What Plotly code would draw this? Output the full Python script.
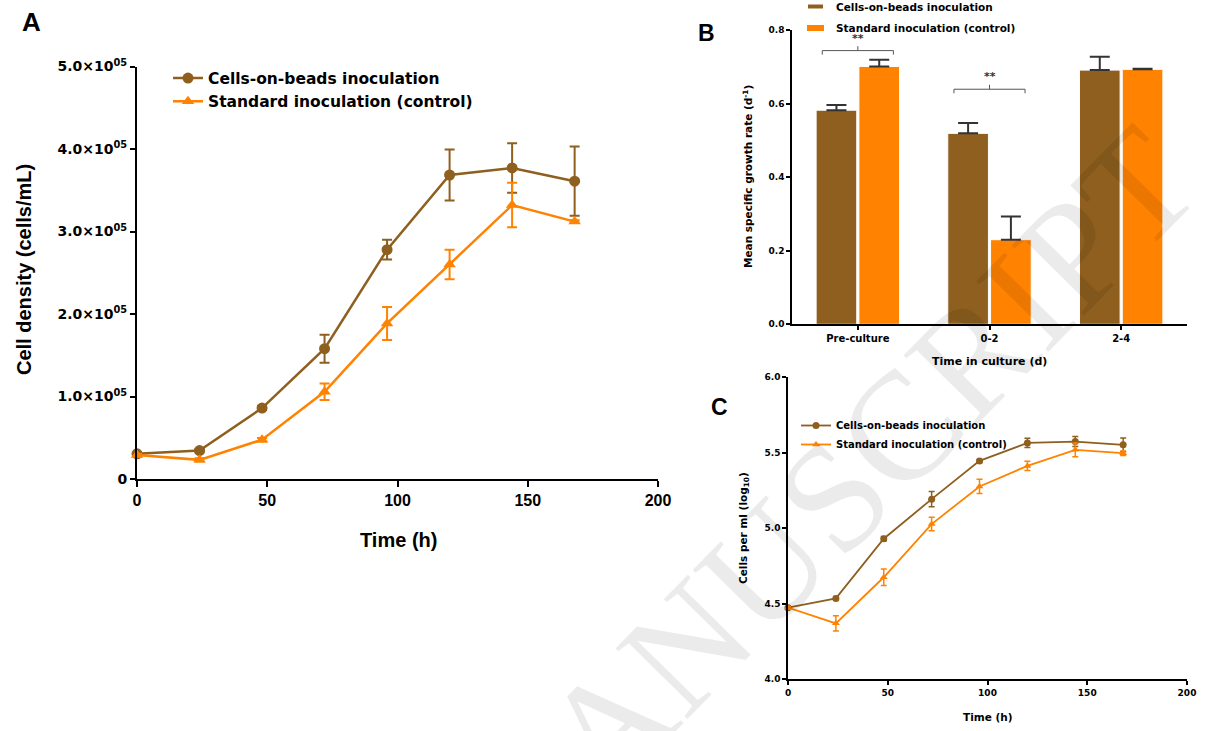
import plotly.graph_objects as go

# ---------------- data ----------------
time_h = [0, 24, 48, 72, 96, 120, 144, 168]
series_names = ["Cells-on-beads inoculation", "Standard inoculation (control)"]

# Panel A: cell density (cells/mL)
a_beads = [30500, 34500, 86000, 158000, 278000, 368500, 377000, 361000]
a_beads_err = [2000, 2000, 2500, 17000, 12000, 31000, 30000, 42000]
a_ctrl = [29000, 23200, 47600, 105700, 188600, 260000, 332000, 312000]
a_ctrl_err = [1500, 2000, 2000, 10000, 20000, 18000, 27000, 1500]
a_yticks = [0, 100000, 200000, 300000, 400000, 500000]
a_yticktext = ["0", "1.0×10<sup>05</sup>", "2.0×10<sup>05</sup>", "3.0×10<sup>05</sup>",
               "4.0×10<sup>05</sup>", "5.0×10<sup>05</sup>"]

# Panel B: mean specific growth rate (d-1)
b_categories = ["Pre-culture", "0-2", "2-4"]
b_beads = [0.582, 0.519, 0.691]
b_beads_err = [0.014, 0.028, 0.036]
b_ctrl = [0.701, 0.230, 0.693]
b_ctrl_err = [0.018, 0.063, 0.002]
b_sig_labels = ["**", "**", ""]
b_sig_levels = [0.744, 0.639, None]

# Panel C: log10 cells per ml
c_beads = [4.474, 4.535, 4.930, 5.192, 5.445, 5.564, 5.573, 5.551]
c_beads_err = [0.010, 0.012, 0.015, 0.050, 0.010, 0.030, 0.033, 0.045]
c_ctrl = [4.474, 4.370, 4.675, 5.027, 5.276, 5.412, 5.518, 5.496]
c_ctrl_err = [0.010, 0.050, 0.055, 0.045, 0.047, 0.030, 0.045, 0.015]

# ---------------- style ----------------
BROWN = "#8E5F1E"
ORANGE = "#FF8200"
DV = "DejaVu Sans"
LS = "Liberation Sans"
PAGE_MARGIN = 0          # body margin removed by the post script below
W, H = 1206 - 2 * PAGE_MARGIN, 731 - 2 * PAGE_MARGIN


def px(x):
    return (x - PAGE_MARGIN) / W


def py(y):
    return 1 - (y - PAGE_MARGIN) / H


fig = go.Figure()

# ---- Panel A ----
fig.add_trace(go.Scatter(
    x=time_h, y=a_beads, name=series_names[0], mode="lines+markers",
    line=dict(color=BROWN, width=2.5), marker=dict(symbol="circle", size=11, color=BROWN),
    error_y=dict(type="data", array=a_beads_err, color=BROWN, thickness=2, width=5),
    xaxis="x", yaxis="y", legend="legend", legendgroup="a1", cliponaxis=False))
fig.add_trace(go.Scatter(
    x=time_h, y=a_ctrl, name=series_names[1], mode="lines+markers",
    line=dict(color=ORANGE, width=2.5), marker=dict(symbol="triangle-up", size=11, color=ORANGE),
    error_y=dict(type="data", array=a_ctrl_err, color=ORANGE, thickness=2, width=5),
    xaxis="x", yaxis="y", legend="legend", legendgroup="a2", cliponaxis=False))

# ---- Panel B ----
fig.add_trace(go.Bar(
    x=b_categories, y=b_beads, name=series_names[0], marker=dict(color=BROWN, line=dict(color="white", width=1)),
    error_y=dict(type="data", array=b_beads_err, arrayminus=[0] * 3, symmetric=False,
                 color="#333333", thickness=2, width=10),
    xaxis="x2", yaxis="y2", showlegend=False))
fig.add_trace(go.Bar(
    x=b_categories, y=b_ctrl, name=series_names[1], marker=dict(color=ORANGE, line=dict(color="white", width=1)),
    error_y=dict(type="data", array=b_ctrl_err, arrayminus=[0] * 3, symmetric=False,
                 color="#333333", thickness=2, width=10),
    xaxis="x2", yaxis="y2", showlegend=False))

# ---- Panel C ----
fig.add_trace(go.Scatter(
    x=time_h, y=c_beads, name=series_names[0], mode="lines+markers",
    line=dict(color=BROWN, width=1.8), marker=dict(symbol="circle", size=7, color=BROWN),
    error_y=dict(type="data", array=c_beads_err, color=BROWN, thickness=1.5, width=3),
    xaxis="x3", yaxis="y3", legend="legend3", legendgroup="c1", cliponaxis=False))
fig.add_trace(go.Scatter(
    x=time_h, y=c_ctrl, name=series_names[1], mode="lines+markers",
    line=dict(color=ORANGE, width=1.8), marker=dict(symbol="triangle-up", size=7, color=ORANGE),
    error_y=dict(type="data", array=c_ctrl_err, color=ORANGE, thickness=1.5, width=3),
    xaxis="x3", yaxis="y3", legend="legend3", legendgroup="c2", cliponaxis=False))

axis_common = dict(showgrid=False, zeroline=False, showline=True, linecolor="black",
                   ticks="outside", tickcolor="black", mirror=False, automargin=False)

fig.update_layout(
    width=W, height=H, margin=dict(l=0, r=0, t=0, b=0, autoexpand=False),
    paper_bgcolor="white", plot_bgcolor="white",
    barmode="group", bargap=0.35, bargroupgap=0.05,
    xaxis=dict(**axis_common, domain=[px(137), px(658)], range=[0, 200], anchor="y",
               tickvals=[0, 50, 100, 150, 200], linewidth=2, tickwidth=2, ticklen=6,
               tickfont=dict(family=LS, size=16, color="black", weight="bold")),
    yaxis=dict(**axis_common, domain=[py(479), py(66.5)], range=[0, 500000], anchor="x",
               tickvals=a_yticks, ticktext=a_yticktext, linewidth=2, tickwidth=2, ticklen=5,
               tickfont=dict(family=DV, size=14, color="black", weight="bold")),
    xaxis2=dict(**axis_common, domain=[px(792), px(1187)], range=[-0.5, 2.5], anchor="y2",
                type="category", linewidth=1.5, tickwidth=1.5, ticklen=4,
                tickfont=dict(family=DV, size=10, color="black", weight="bold")),
    yaxis2=dict(**axis_common, domain=[py(324.3), py(30)], range=[0, 0.8], anchor="x2",
                tickvals=[0, 0.2, 0.4, 0.6, 0.8], tickformat=".1f", linewidth=1.5, tickwidth=1.5, ticklen=4,
                tickfont=dict(family=DV, size=9, color="black", weight="bold")),
    xaxis3=dict(**axis_common, domain=[px(788), px(1187)], range=[0, 200], anchor="y3",
                tickvals=[0, 50, 100, 150, 200], linewidth=1.5, tickwidth=1.5, ticklen=4,
                tickfont=dict(family=DV, size=9, color="black", weight="bold")),
    yaxis3=dict(**axis_common, domain=[py(679.3), py(377)], range=[4.0, 6.0], anchor="x3",
                tickvals=[4.0, 4.5, 5.0, 5.5, 6.0], tickformat=".1f", linewidth=1.5, tickwidth=1.5, ticklen=4,
                tickfont=dict(family=DV, size=9, color="black", weight="bold")),
    legend=dict(x=px(168), y=py(61.5), xanchor="left", yanchor="top", bgcolor="rgba(0,0,0,0)",
                font=dict(family=DV, size=15.5, color="black", weight="bold"), tracegroupgap=0),
    legend3=dict(x=px(796), y=py(411), xanchor="left", yanchor="top", bgcolor="rgba(0,0,0,0)",
                 font=dict(family=DV, size=10, color="black", weight="bold"), tracegroupgap=0),
)

annotations = []
shapes = []


def txt(text, x, y, size, family=DV, angle=0, color="black", xanchor="center", yanchor="middle", ref=("paper", "paper")):
    return dict(text=text, x=x, y=y, xref=ref[0], yref=ref[1], showarrow=False, textangle=angle,
                xanchor=xanchor, yanchor=yanchor,
                font=dict(family=family, size=size, color=color, weight="bold"))


# Axis titles
annotations += [
    txt("Time (h)", px(398), py(540), 20, LS),
    txt("Cell density (cells/mL)", px(24), py(270), 20, LS, angle=-90),
    txt("Time in culture (d)", px(989.5), py(361.7), 11),
    txt("Mean specific growth rate (d<sup>-1</sup>)", px(747.5), py(176.5), 10.5, angle=-90),
    txt("Time (h)", px(987.5), py(717), 10.5),
    txt("Cells per ml (log<sub>10</sub>)", px(744), py(528), 10.5, angle=-90),
]

# Panel letters
annotations += [
    txt("A", px(31), py(22), 26, LS),
    txt("B", px(706), py(33), 23, LS),
    txt("C", px(720), py(407), 23, LS),
]

# Panel B legend (swatches + text)
shapes += [
    dict(type="rect", xref="paper", yref="paper", x0=px(808), x1=px(823), y0=py(8.5), y1=py(4.5),
         fillcolor=BROWN, line=dict(width=0)),
    dict(type="rect", xref="paper", yref="paper", x0=px(807), x1=px(824), y0=py(31), y1=py(25),
         fillcolor=ORANGE, line=dict(width=0)),
]
annotations += [
    txt(series_names[0], px(834), py(7), 10.5, xanchor="left"),
    txt(series_names[1], px(834), py(28), 10.5, xanchor="left"),
]

# Significance brackets in panel B
half = 0.27
for i, (lab, lev) in enumerate(zip(b_sig_labels, b_sig_levels)):
    if lev is None:
        continue
    lc = dict(color="#555555", width=1)
    shapes += [
        dict(type="line", xref="x2", yref="y2", x0=i - half, x1=i + half, y0=lev, y1=lev, line=lc),
        dict(type="line", xref="x2", yref="y2", x0=i - half, x1=i - half, y0=lev, y1=lev - 0.011, line=lc),
        dict(type="line", xref="x2", yref="y2", x0=i + half, x1=i + half, y0=lev, y1=lev - 0.011, line=lc),
        dict(type="line", xref="x2", yref="y2", x0=i, x1=i, y0=lev, y1=lev + 0.012, line=lc),
    ]
    annotations.append(txt(lab, i, lev + 0.034, 11, color="#333333", ref=("x2", "y2")))

# Watermark
annotations.append(dict(text="MANUSCRIPT", x=px(821), y=py(509), xref="paper", yref="paper",
                        showarrow=False, textangle=-45.5, xanchor="center", yanchor="middle",
                        font=dict(family="Liberation Serif", size=154, color="rgba(0,0,0,0.08)")))

fig.update_layout(annotations=annotations, shapes=shapes)

fig.write_html("out.html", config={"displayModeBar": False},
               post_script="document.body.style.margin='0';")
